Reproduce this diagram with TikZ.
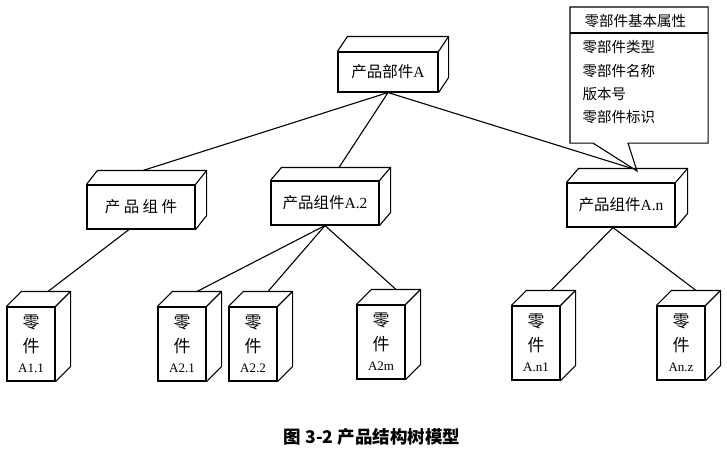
\documentclass[tikz,border=0pt]{standalone}
\usepackage{fontspec}
\setmainfont{Liberation Serif}
\newfontfamily\cjk{Noto Sans CJK SC}
\usetikzlibrary{calc}

\newcommand{\lblfont}{\fontsize{13}{14}\selectfont}
% top and side faces of a box node
\newcommand{\boxfaces}[3]{%
  \draw (#1.north west) -- ++(#2,#3) -- ($(#1.north east)+(#2,#3)$) -- ($(#1.south east)+(#2,#3)$) -- (#1.south east);
  \draw (#1.north east) -- ++(#2,#3);
}

\begin{document}
\begin{tikzpicture}[x=1pt, y=-1pt, line width=1.1pt,
    part/.style={draw, rectangle, inner sep=0pt, minimum width=108pt, minimum height=44pt, font=\fontsize{15.5}{18}\selectfont},
    leaf/.style={draw, rectangle, inner sep=0pt, minimum width=48pt, minimum height=74pt, align=center, font=\fontsize{17}{24}\selectfont},
    attrtext/.style={anchor=west, inner sep=0pt, font=\fontsize{14.5}{16}\selectfont\cjk}]
    \useasboundingbox (0,0) rectangle (727,455);

    \node[part, minimum width=100pt, minimum height=40pt] at (388, 72) (root) {{\cjk 产品部件}A};
    \node[part] at (141, 207) (ca) {\cjk 产 品 组 件};
    \node[part] at (325, 203) (c2) {{\cjk 产品组件}A.2};
    \node[part] at (621, 205) (cn) {{\cjk 产品组件}A.n};

    \node[leaf] at (31, 344) (l11) {{\cjk 零}\\{\cjk 件}\\[-4pt]{\lblfont A1.1}};
    \node[leaf] at (182, 344) (l21) {{\cjk 零}\\{\cjk 件}\\[-4pt]{\lblfont A2.1}};
    \node[leaf] at (253, 344) (l22) {{\cjk 零}\\{\cjk 件}\\[-4pt]{\lblfont A2.2}};
    \node[leaf] at (381, 342) (l2m) {{\cjk 零}\\{\cjk 件}\\[-4pt]{\lblfont A2m}};
    \node[leaf] at (536, 343) (ln1) {{\cjk 零}\\{\cjk 件}\\[-4pt]{\lblfont A.n1}};
    \node[leaf] at (681, 343) (lnz) {{\cjk 零}\\{\cjk 件}\\[-4pt]{\lblfont An.z}};

    \boxfaces{root}{10}{-15}
    \boxfaces{ca}{11}{-14}
    \boxfaces{c2}{11}{-13}
    \boxfaces{cn}{12}{-14}
    \boxfaces{l11}{15}{-15}
    \boxfaces{l21}{15}{-15}
    \boxfaces{l22}{15}{-15}
    \boxfaces{l2m}{15}{-15}
    \boxfaces{ln1}{15}{-15}
    \boxfaces{lnz}{15}{-15}

    \draw (root.south) -- ($(ca.north)+(2,-14)$);
    \draw (root.south) -- ($(c2.north)+(14,-13)$);
    \draw (root.south) -- ($(cn.north)+(11,-14)$);

    \draw (ca.south) ++(-12,0) -- ($(l11.north)+(17,-15)$);
    \draw (c2.south) -- ($(l21.north)+(15,-15)$);
    \draw (c2.south) -- ($(l22.north)+(15,-15)$);
    \draw (c2.south) -- ($(l2m.north)+(15,-15)$);
    \draw (cn.south) ++(-8,0) -- ($(ln1.north)+(15,-15)$);
    \draw (cn.south) ++(-8,0) -- ($(lnz.north)+(15,-15)$);

    % attribute callout
    \node[rectangle, minimum width=137pt, minimum height=135pt, anchor=north west, inner sep=0pt] at (570, 7) (attr) {};
    \coordinate (tip) at (637, 171);
    \draw (attr.north west) -- (attr.north east) -- (attr.south east) -- ($(attr.south west)+(58,0)$)
        -- (tip) -- ($(attr.south west)+(23,0)$) -- (attr.south west) -- cycle;
    \draw ($(attr.north west)+(0,26)$) -- ($(attr.north east)+(0,26)$);
    \node[attrtext] at (584, 21) (h0) {零部件基本属性};
    \node[attrtext] at (582, 47) (a1) {零部件类型};
    \node[attrtext] at (582, 71) (a2) {零部件名称};
    \node[attrtext] at (582, 94) (a3) {版本号};
    \node[attrtext] at (582, 117) (a4) {零部件标识};

    \node[font=\fontsize{17.5}{20}\selectfont\cjk\bfseries] at (372, 437) (cap) {图 3-2 产品结构树模型};
\end{tikzpicture}
\end{document}
